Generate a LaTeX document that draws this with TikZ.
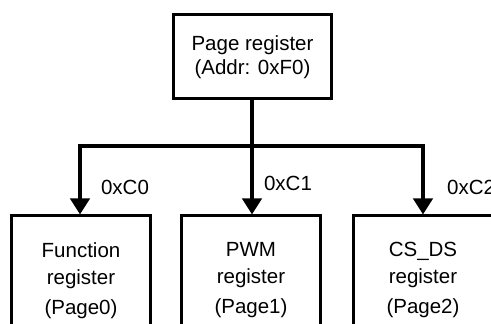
\documentclass[tikz,border=0pt]{standalone}
\usepackage{fontspec}
\setmainfont{Liberation Sans}
\usetikzlibrary{arrows.meta}
\begin{document}
\begin{tikzpicture}[x=1pt,y=1pt,
  box/.style={draw,line width=3pt,rectangle,inner sep=0pt},
  txt/.style={align=center,inner sep=0pt,font=\fontsize{20.5}{24}\selectfont},
  lbl/.style={inner sep=0pt,font=\fontsize{20.5}{24}\selectfont},
  arr/.style={line width=4pt,-{Triangle[width=19pt,length=16pt]}}]
\clip (0,0) rectangle (491,324);
\fill[white] (0,0) rectangle (491,324);
% top box
\node[box,minimum width=158pt,minimum height=84pt] (top) at (252.5,267.5) {};
\node[txt] (toptext) at (252.5,267) {Page register\\(Addr: 0xF0)};
% bottom boxes
\node[box,minimum width=139pt,minimum height=160pt,anchor=north] (b0) at (81,109.5) {};
\node[box,minimum width=139pt,minimum height=160pt,anchor=north] (b1) at (251,109.5) {};
\node[box,minimum width=139pt,minimum height=160pt,anchor=north] (b2) at (423,109.5) {};
\node[txt,anchor=north,font=\fontsize{20.5}{27}\selectfont] (t0) at (81,82) {Function\\register\\[3pt](Page0)};
\node[txt,anchor=north,font=\fontsize{20.5}{27}\selectfont] (t1) at (251,82) {PWM\\register\\[3pt](Page1)};
\node[txt,anchor=north,font=\fontsize{20.5}{27}\selectfont] (t2) at (423,82) {CS\_DS\\register\\[3pt](Page2)};
% connectors
\coordinate (j) at (252,178);
\coordinate (jl) at (80,178);
\coordinate (jr) at (423,178);
\draw[arr] (top.south -| j) -- (j |- b1.north);
\draw[arr] (j) -- (jl) -- (jl |- b0.north);
\draw[arr] (j) -- (jr) -- (jr |- b2.north);
% labels
\node[lbl] (l0) at (125,137) {0xC0};
\node[lbl] (l1) at (288,141) {0xC1};
\node[lbl,anchor=west] (l2) at (447,137) {0xC2};
\end{tikzpicture}
\end{document}
